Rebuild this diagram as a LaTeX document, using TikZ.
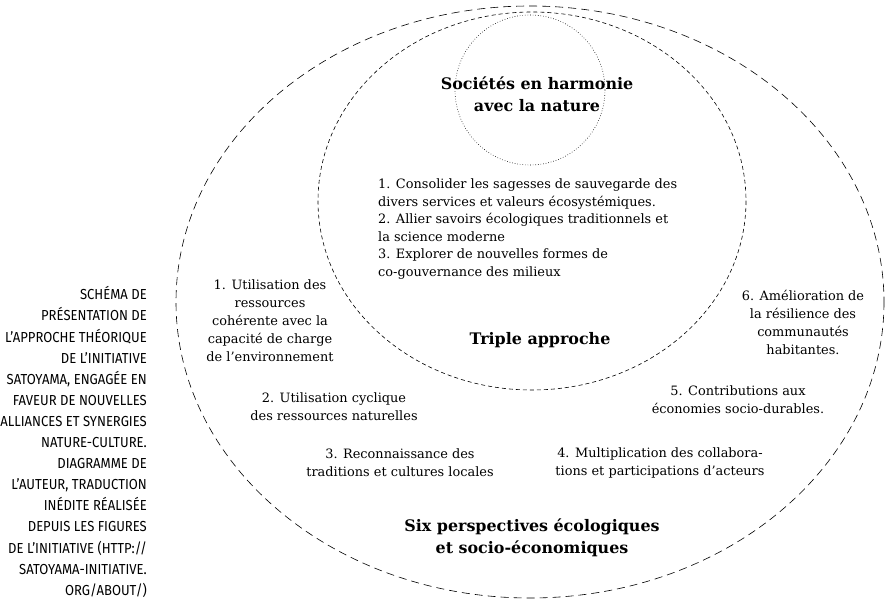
\documentclass[tikz,border=0pt]{standalone}
\usepackage{fontspec}
\setmainfont{DejaVu Serif}
\newfontfamily\capfont[FakeStretch=0.9]{Fira Sans}
\begin{document}
\begin{tikzpicture}[x=1pt,y=-1pt,
  item/.style={align=center,inner sep=0pt,font=\fontsize{12.9}{18}\selectfont},
  heading/.style={align=center,inner sep=0pt,font=\bfseries\fontsize{15.9}{22}\selectfont}]
  \useasboundingbox (0,0) rectangle (886,601);
  \draw[line width=0.6pt, dash pattern=on 8pt off 5pt] (530,302) ellipse [x radius=354, y radius=296];
  \draw[line width=0.6pt, dash pattern=on 4pt off 3pt] (532,201) ellipse [x radius=214, y radius=189];
  \draw[line width=0.6pt, dotted] (530,90) circle [radius=75];
  \node[heading] (harmonie) at (537,94) {Sociétés en harmonie\\avec la nature};
  \node[item, align=left, anchor=west, font=\fontsize{12.9}{17.6}\selectfont] (triple items) at (378,229)
    {1. Consolider les sagesses de sauvegarde des\\divers services et valeurs écosystémiques.\\
     2. Allier savoirs écologiques traditionnels et\\la science moderne\\
     3. Explorer de nouvelles formes de\\co-gouvernance des milieux};
  \node[heading] (triple) at (540,340) {Triple approche};
  \node[item] (p1) at (270,321) {1. Utilisation des\\ressources\\cohérente avec la\\capacité de charge\\de l’environnement};
  \node[item] (p2) at (334,407) {2. Utilisation cyclique\\des ressources naturelles};
  \node[item] (p3) at (400,463) {3. Reconnaissance des\\traditions et cultures locales};
  \node[item] (p4) at (660,463) {4. Multiplication des collabora-\\tions et participations d’acteurs};
  \node[item] (p5) at (738,400) {5. Contributions aux\\économies socio-durables.};
  \node[item] (p6) at (803,322) {6. Amélioration de\\la résilience des\\communautés\\habitantes.};
  \node[heading] (six) at (532,538) {Six perspectives écologiques\\et socio-économiques};
  \node[align=right, anchor=east, inner sep=0pt, font=\capfont\fontsize{14.5}{21.1}\selectfont] (legende) at (147,442)
    {SCHÉMA DE\\PRÉSENTATION DE\\L’APPROCHE THÉORIQUE\\DE L’INITIATIVE\\SATOYAMA, ENGAGÉE EN\\FAVEUR DE NOUVELLES\\
     ALLIANCES ET SYNERGIES\\NATURE-CULTURE.\\DIAGRAMME DE\\L’AUTEUR, TRADUCTION\\INÉDITE RÉALISÉE\\
     DEPUIS LES FIGURES\\DE L’INITIATIVE (HTTP://\\SATOYAMA-INITIATIVE.\\ORG/ABOUT/)};
\end{tikzpicture}
\end{document}
